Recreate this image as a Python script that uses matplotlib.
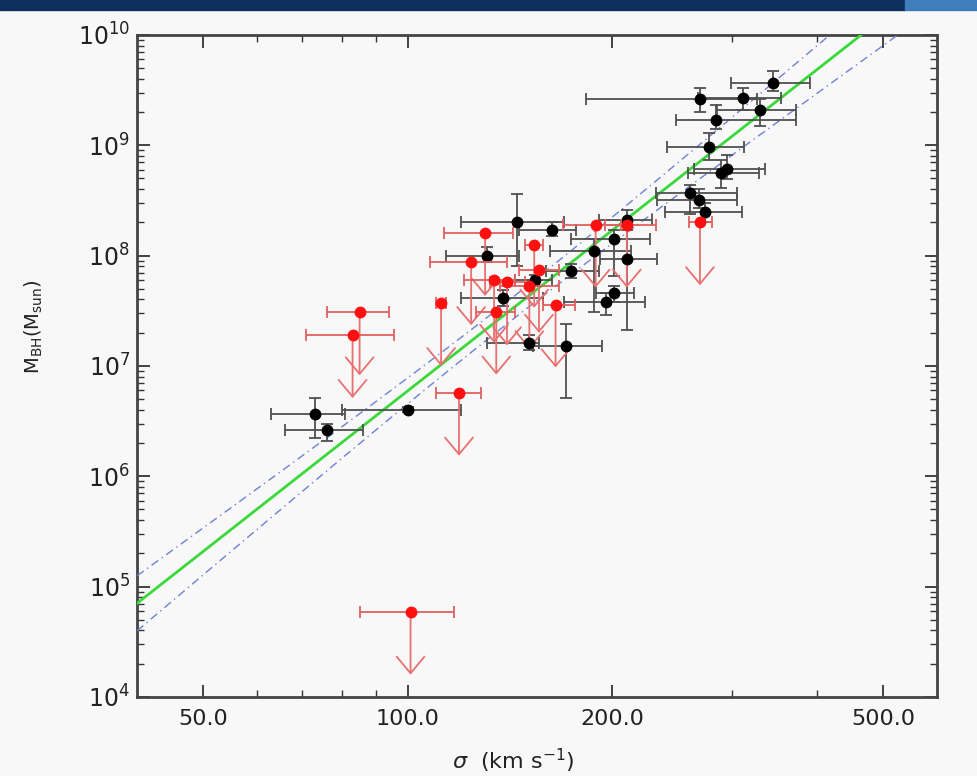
import matplotlib.pyplot as plt
import numpy as np
from matplotlib.patches import Rectangle
from matplotlib.ticker import FixedLocator, FixedFormatter, LogLocator, NullFormatter

# black points: measured black hole masses
black_sigma = [345, 269, 311, 284, 330, 277, 295, 289, 260, 268, 274, 210, 145, 163, 131,
               201, 188, 210, 174, 154, 138, 201, 196, 151, 171, 73, 76, 100]
black_sig_lo = [299, 183, 267, 248, 285, 241, 264, 258, 232, 233, 239, 191, 120, 146, 114,
                174, 162, 192, 160, 144, 120, 189, 170, 131, 153, 63, 66, 80]
black_sig_hi = [391, 326, 354, 373, 373, 312, 335, 328, 305, 305, 310, 229, 170, 177, 146,
                227, 213, 233, 191, 163, 158, 215, 223, 156, 193, 81, 86, 120]
black_mbh = [3.7e9, 2.6e9, 2.7e9, 1.7e9, 2.1e9, 9.6e8, 6.1e8, 5.6e8, 3.7e8, 3.2e8, 2.5e8,
             2.1e8, 2.0e8, 1.7e8, 1.0e8, 1.4e8, 1.1e8, 9.3e7, 7.3e7, 6.0e7, 4.1e7, 4.6e7,
             3.8e7, 1.6e7, 1.5e7, 3.7e6, 2.6e6, 4.0e6]
black_m_lo = [3.1e9, 2.0e9, 2.1e9, 1.4e9, 1.5e9, 7.4e8, 4.9e8, 4.1e8, 2.4e8, 2.7e8, 2.0e8,
              1.7e8, 8.0e7, 1.5e8, 8.8e7, 6.5e7, 3.1e7, 2.1e7, 6.3e7, 5.3e7, 3.5e7, 3.8e7,
              2.9e7, 1.4e7, 5.1e6, 2.2e6, 2.1e6, 3.8e6]
black_m_hi = [4.7e9, 3.3e9, 3.3e9, 2.3e9, 2.6e9, 1.3e9, 8.2e8, 7.4e8, 4.4e8, 4.0e8, 3.0e8,
              2.6e8, 3.6e8, 2.0e8, 1.2e8, 1.7e8, 1.4e8, 2.0e8, 8.3e7, 6.7e7, 4.9e7, 5.3e7,
              4.6e7, 1.9e7, 2.4e7, 5.1e6, 3.0e6, 4.2e6]

# red points: upper limits
red_sigma = [85, 83, 112, 119, 101, 130, 153.5, 124, 189, 210, 156, 134, 140, 151, 135, 165, 269]
red_sig_lo = [76, 71, 110, 110, 85, 113, 149, 108, 169, 195, 146, 121, 132, 136.5, 126, 158, 259]
red_sig_hi = [94, 95.5, 114, 128, 117, 143, 158, 140, 206, 232, 167, 144, 149, 167, 144, 176, 280]
red_mbh = [3.05e7, 1.9e7, 3.7e7, 5.7e6, 5.9e4, 1.6e8, 1.25e8, 8.7e7, 1.9e8, 1.9e8, 7.4e7,
           6.0e7, 5.7e7, 5.25e7, 3.1e7, 3.6e7, 2.0e8]

# M-sigma fit: log M = a + b log(sigma/200), with a widening confidence band
fit_a, fit_b = 8.23, 4.84
band_a, band_b, band_pivot = 0.10, 0.42, np.log10(140 / 200)

x_ticks = [50, 100, 200, 500]
x_ticklabels = ['50.0', '100.0', '200.0', '500.0']
y_ticks = [1e4, 1e5, 1e6, 1e7, 1e8, 1e9, 1e10]
y_ticklabels = [r'10$^{%d}$' % i for i in range(4, 11)]

fig = plt.figure(figsize=(9.78, 7.76), dpi=100, facecolor='#f8f8f8')
ax = fig.add_axes([0.140, 0.102, 0.818, 0.853])
ax.set_facecolor('#f8f8f8')
ax.set_xscale('log')
ax.set_yscale('log')

# slide header strip
fig.add_artist(Rectangle((0, 1 - 10 / 776), 905 / 978, 10 / 776, transform=fig.transFigure,
                         color='#0d2f5e', zorder=0))
fig.add_artist(Rectangle((905 / 978, 1 - 10 / 776), 73 / 978, 10 / 776,
                         transform=fig.transFigure, color='#3f7dbd', zorder=0))

sig_line = np.geomspace(40, 600, 200)
lx = np.log10(sig_line / 200)
logm = fit_a + fit_b * lx
band = np.sqrt(band_a ** 2 + band_b ** 2 * (lx - band_pivot) ** 2)
ax.plot(sig_line, 10 ** logm, color='#3ad83a', lw=2.0, zorder=3)
ax.plot(sig_line, 10 ** (logm + band), color='#6f80d6', lw=1.0, ls=(0, (6, 3, 1, 3)), zorder=3)
ax.plot(sig_line, 10 ** (logm - band), color='#6f80d6', lw=1.0, ls=(0, (6, 3, 1, 3)), zorder=3)

bs = np.array(black_sigma)
bm = np.array(black_mbh)
ax.errorbar(bs, bm,
            xerr=[bs - np.array(black_sig_lo), np.array(black_sig_hi) - bs],
            yerr=[bm - np.array(black_m_lo), np.array(black_m_hi) - bm],
            fmt='o', color='black', ms=7.5, ecolor='#505050', elinewidth=1.3,
            capsize=4, capthick=1.3, zorder=4)

rs = np.array(red_sigma)
rm = np.array(red_mbh)
for s, m in zip(rs, rm):
    ax.annotate('', xy=(s, m * 10 ** -0.57), xytext=(s, m),
                arrowprops=dict(arrowstyle='->,head_length=1.2,head_width=1.0',
                                color='#e87070', lw=1.3, shrinkA=0, shrinkB=0),
                zorder=4)
ax.errorbar(rs, rm,
            xerr=[rs - np.array(red_sig_lo), np.array(red_sig_hi) - rs],
            fmt='o', color='#ff1010', ms=7.5, ecolor='#e06060', elinewidth=1.3,
            capsize=4, capthick=1.3, zorder=5)

ax.set_xlim(40, 600)
ax.set_ylim(1e4, 1e10)

ax.xaxis.set_major_locator(FixedLocator(x_ticks))
ax.xaxis.set_major_formatter(FixedFormatter(x_ticklabels))
ax.xaxis.set_minor_locator(FixedLocator([60, 70, 80, 90, 300, 400]))
ax.xaxis.set_minor_formatter(NullFormatter())
ax.yaxis.set_major_locator(FixedLocator(y_ticks))
ax.yaxis.set_major_formatter(FixedFormatter(y_ticklabels))
ax.yaxis.set_minor_locator(LogLocator(base=10, subs=np.arange(2, 10), numticks=20))
ax.yaxis.set_minor_formatter(NullFormatter())

ax.tick_params(which='both', direction='in', top=True, right=True, colors='#333333')
ax.tick_params(which='major', length=9, width=1.3, labelsize=16, labelcolor='#222222')
ax.tick_params(axis='y', which='major', labelsize=17)
ax.tick_params(which='minor', length=5, width=1.0)
ax.tick_params(axis='x', which='major', pad=9)
ax.tick_params(axis='y', which='major', pad=5)
for sp in ax.spines.values():
    sp.set_color('#444444')
    sp.set_linewidth(2.0)

ax.set_xlabel(r'$\sigma$  (km s$^{-1}$)', fontsize=16, color='#222222', labelpad=8)
ax.set_ylabel(r'M$_{\rm BH}$(M$_{\rm sun}$)', fontsize=14, color='#222222')
ax.yaxis.set_label_coords(-0.115, 0.56)
ax.xaxis.set_label_coords(0.47, -0.075)

fig.savefig('out.png', dpi=100, facecolor=fig.get_facecolor())
